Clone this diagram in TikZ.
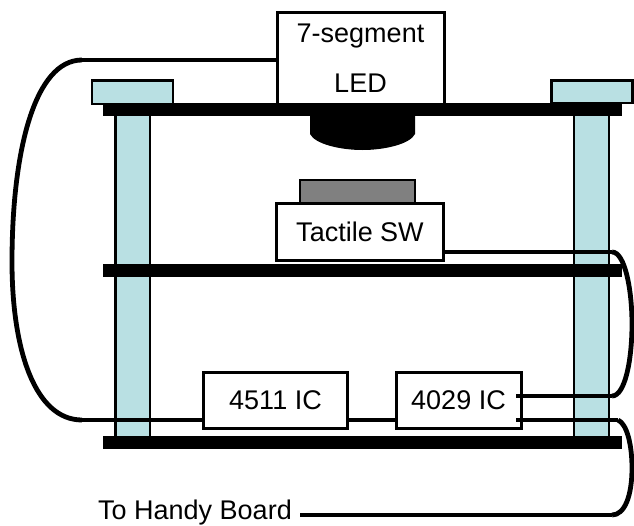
\documentclass[tikz,border=0pt]{standalone}
\usepackage{fontspec}
\setmainfont{Liberation Sans}
\definecolor{pillarc}{RGB}{185,224,227}
\tikzset{
  px/.style={x=1pt,y=-1pt},
  pillar/.style={draw=black,line width=2.2pt,fill=pillarc},
  board/.style={fill=black,draw=none},
  label/.style={font=\fontsize{27}{30}\selectfont,inner sep=0pt},
  chip/.style={draw=black,line width=3pt,fill=white,label,align=center},
  wire/.style={draw=black,line width=3.2pt},
  heavy wire/.style={draw=black,line width=4.8pt}
}
\begin{document}
\begin{tikzpicture}[px]
\useasboundingbox (0,0) rectangle (634,525);
% pillars and caps
\filldraw[pillar] (115.5,110) rectangle (150,440);
\filldraw[pillar] (574,110) rectangle (609,440);
\filldraw[pillar] (92,80.5) rectangle (173,104);
\filldraw[pillar] (551.5,80.5) rectangle (632.5,103);
% wires
\coordinate (ledW) at (276,60);
\coordinate (icW) at (204,420);
\coordinate (swE) at (443,252);
\coordinate (i29a) at (517,396);
\coordinate (i29b) at (517,420);
\coordinate (hb) at (300,515);
\draw[wire] (ledW) -- (82,60);
\draw[heavy wire] (82,60) .. controls (35,60) and (12,150) .. (12,262) .. controls (12,350) and (35,420) .. (82,420);
\draw[wire] (82,420) -- (icW);
\draw[wire] (348,420) -- (396,420);
\draw[wire] (swE) -- (612,252);
\draw[heavy wire] (612,252) .. controls (625,252) and (632,290) .. (632,324) .. controls (632,360) and (625,396) .. (612,396);
\draw[wire] (612,396) -- (i29a);
\draw[wire] (i29b) -- (618,420);
\draw[heavy wire] (618,420) .. controls (627,424) and (632,445) .. (632,468) .. controls (632,495) and (625,515) .. (612,515);
\draw[heavy wire] (612,515) -- (hb);
% boards
\fill[board] (103,103) rectangle (622,116);
\fill[board] (103,263.5) rectangle (622,276.5);
\fill[board] (103,436) rectangle (622,449);
% lens
\fill[board] (310,110) -- (415,110) -- (415,134) .. controls (410,144) and (385,150) .. (362.5,150) .. controls (340,150) and (315,144) .. (310,134) -- cycle;
% button
\filldraw[draw=black,line width=2.2pt,fill=black!50] (300,180) rectangle (415,204);
% boxes
\node[chip,minimum width=167pt,minimum height=93pt,anchor=north west] (led) at (275.5,11) {};
\fill[board] (274,103) rectangle (446,110);
\node[label] (ledt1) at (360.5,36) {7-segment};
\node[label] (ledt2) at (360.5,83) {LED};
\node[chip,minimum width=167pt,minimum height=57pt] (sw) at (360,232) {Tactile SW};
\node[chip,minimum width=144pt,minimum height=56pt] (ic1) at (275.5,400.5) {4511 IC};
\node[chip,minimum width=125pt,minimum height=56pt] (ic2) at (458.5,400.5) {4029 IC};
\draw[line width=4pt] (516,396) -- (524,396);
\draw[line width=4pt] (516,420) -- (524,420);
\node[label,anchor=base west] (hbt) at (98,519) {To Handy Board};
\end{tikzpicture}
\end{document}
